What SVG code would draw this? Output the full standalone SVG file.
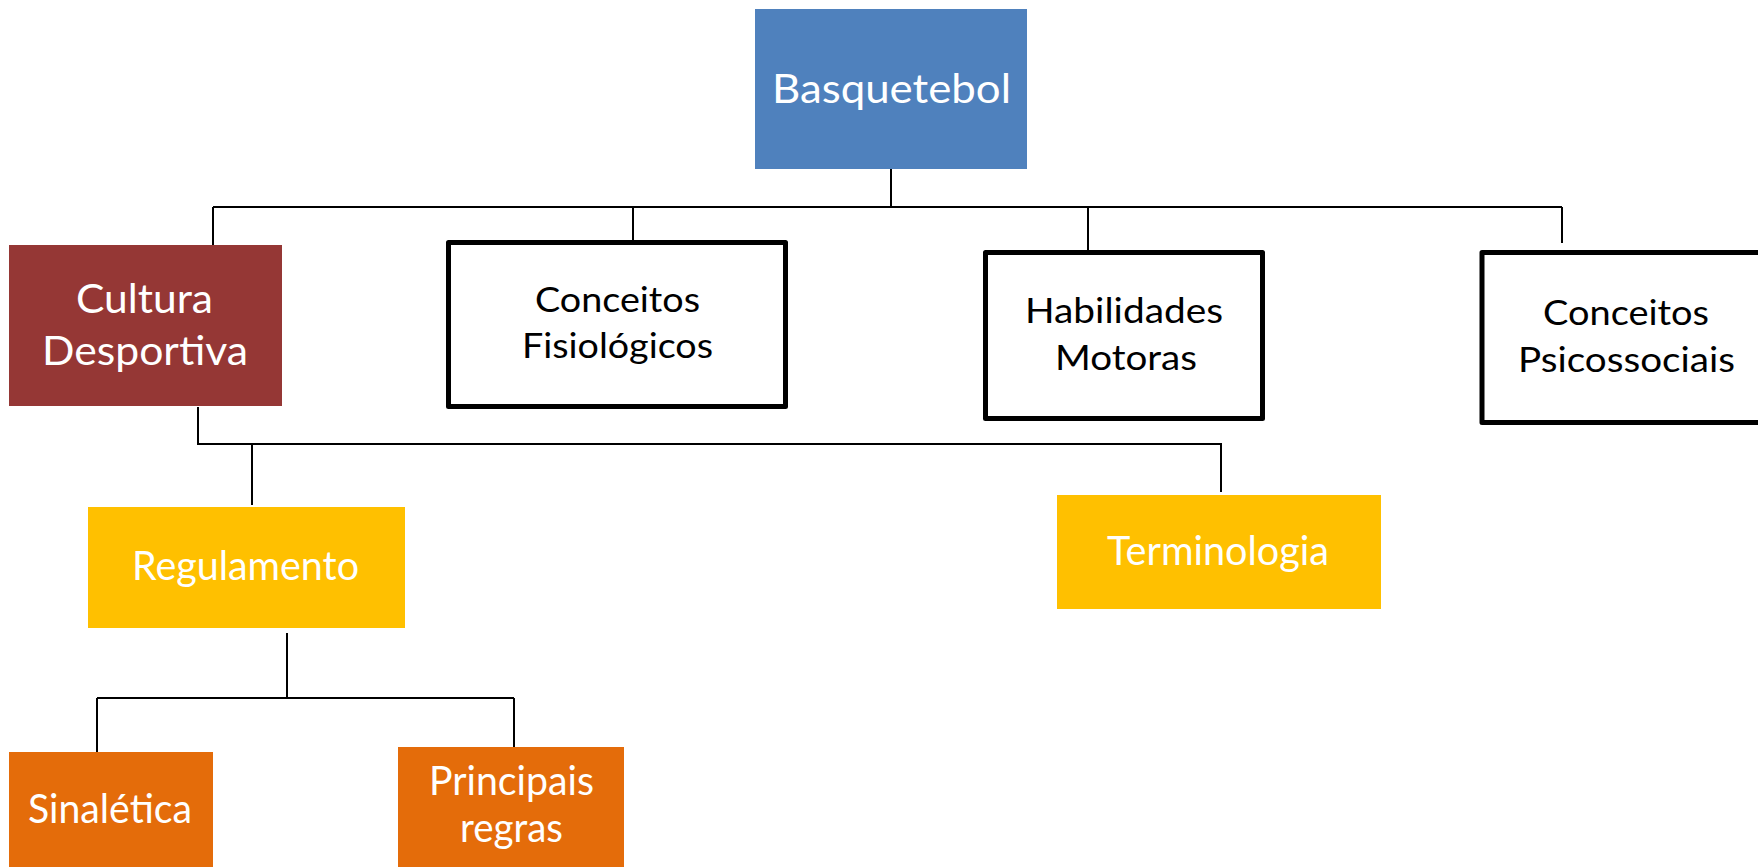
<svg xmlns="http://www.w3.org/2000/svg" width="1758" height="867" viewBox="0 0 1758 867">
  <style>
    .lbl { font-family: Lato, "Open Sans", "Liberation Sans", sans-serif; text-anchor: middle; }
    .light { fill: #ffffff; font-size: 41px; }
    .dark { fill: #000000; font-size: 34px; }
    .outline { fill: #ffffff; stroke: #000000; stroke-width: 5; stroke-linejoin: round; }
    .wire { fill: none; stroke: #000000; stroke-width: 2; }
  </style>
  <rect width="1758" height="867" fill="#ffffff"/>

  <!-- connectors -->
  <g id="connectors" class="wire">
    <path d="M891 169 V207"/>
    <path d="M213 207 H1562"/>
    <path d="M213 207 V246"/>
    <path d="M633 207 V248"/>
    <path d="M1088 207 V251"/>
    <path d="M1562 207 V243"/>
    <path d="M198 407 V444 H1221 V492"/>
    <path d="M252 444 V505"/>
    <path d="M287 633 V698"/>
    <path d="M97 698 H514"/>
    <path d="M97 698 V755"/>
    <path d="M514 698 V749"/>
  </g>

  <g id="basquetebol">
    <rect x="755" y="9" width="272" height="160" fill="#4f81bd"/>
    <text class="lbl light" x="891.5" y="103" textLength="239" lengthAdjust="spacingAndGlyphs">Basquetebol</text>
  </g>

  <g id="cultura-desportiva">
    <rect x="9" y="245" width="273" height="161" fill="#953735"/>
    <text class="lbl light" x="144.5" y="313" textLength="137" lengthAdjust="spacingAndGlyphs">Cultura</text>
    <text class="lbl light" x="145" y="365" textLength="206" lengthAdjust="spacingAndGlyphs">Desportiva</text>
  </g>

  <g id="conceitos-fisiologicos">
    <rect class="outline" x="448.5" y="242.5" width="337" height="164"/>
    <text class="lbl dark" x="617.5" y="312" textLength="165" lengthAdjust="spacingAndGlyphs">Conceitos</text>
    <text class="lbl dark" x="617.5" y="358" textLength="191" lengthAdjust="spacingAndGlyphs">Fisiológicos</text>
  </g>

  <g id="habilidades-motoras">
    <rect class="outline" x="985.5" y="252.5" width="277" height="166"/>
    <text class="lbl dark" x="1124" y="323" textLength="198" lengthAdjust="spacingAndGlyphs">Habilidades</text>
    <text class="lbl dark" x="1126" y="370" textLength="142" lengthAdjust="spacingAndGlyphs">Motoras</text>
  </g>

  <g id="conceitos-psicossociais">
    <rect class="outline" x="1482" y="252.5" width="400" height="170"/>
    <text class="lbl dark" x="1626" y="325" textLength="166" lengthAdjust="spacingAndGlyphs">Conceitos</text>
    <text class="lbl dark" x="1626.5" y="372" textLength="217" lengthAdjust="spacingAndGlyphs">Psicossociais</text>
  </g>

  <g id="regulamento">
    <rect x="88" y="507" width="317" height="121" fill="#ffc000"/>
    <text class="lbl light" x="245.5" y="580" textLength="227" lengthAdjust="spacingAndGlyphs">Regulamento</text>
  </g>

  <g id="terminologia">
    <rect x="1057" y="495" width="324" height="114" fill="#ffc000"/>
    <text class="lbl light" x="1218" y="565" textLength="222" lengthAdjust="spacingAndGlyphs">Terminologia</text>
  </g>

  <g id="sinaletica">
    <rect x="9" y="752" width="204" height="120" fill="#e46c0a"/>
    <text class="lbl light" x="110" y="823" textLength="164" lengthAdjust="spacingAndGlyphs">Sinalética</text>
  </g>

  <g id="principais-regras">
    <rect x="398" y="747" width="226" height="125" fill="#e46c0a"/>
    <text class="lbl light" x="511.5" y="795" textLength="165" lengthAdjust="spacingAndGlyphs">Principais</text>
    <text class="lbl light" x="511.5" y="842" textLength="103" lengthAdjust="spacingAndGlyphs">regras</text>
  </g>
</svg>
